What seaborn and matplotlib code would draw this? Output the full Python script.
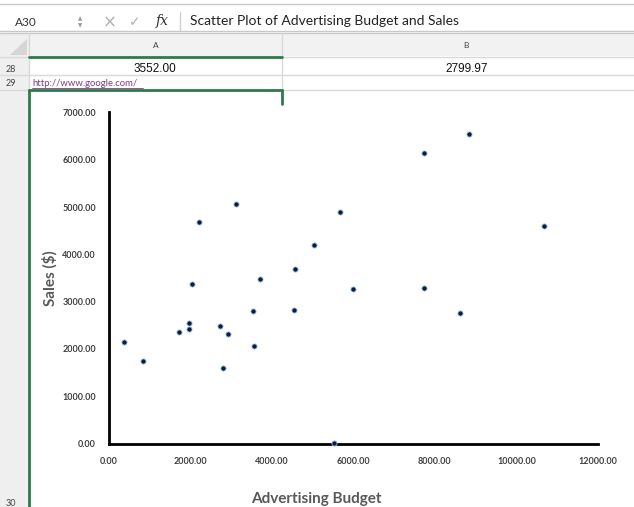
import matplotlib
matplotlib.use("Agg")
import matplotlib.pyplot as plt
import seaborn as sns
import pandas as pd
from matplotlib.lines import Line2D
from matplotlib.patches import Rectangle, Polygon

# ---- data ----
budget = [372, 846, 1728, 1965, 1965, 2054, 2740, 2937, 2814, 3552, 3558, 3705,
          4547, 2226, 3125, 4571, 5044, 8836, 7733, 5666, 10681, 6000, 7733, 8623, 5520]
sales = [2140, 1751, 2357, 2554, 2421, 3379, 2491, 2315, 1596, 2799.97, 2055, 3471,
         2816, 4689, 5063, 3689, 4197, 6543, 6148, 4888, 4605, 3273, 3294, 2752, 5]
x_ticks = [0, 2000, 4000, 6000, 8000, 10000, 12000]
y_ticks = [0, 1000, 2000, 3000, 4000, 5000, 6000, 7000]
formula_text = "Scatter Plot of Advertising Budget and Sales"
row28_values = ["3552.00", "2799.97"]
x_label = "Advertising Budget"
y_label = "Sales ($)"

sns.set_style("white")
plt.rcParams['font.family'] = ['Lato', 'DejaVu Sans']

W, H = 634, 507
fig = plt.figure(figsize=(W / 100, H / 100), dpi=100)
fig.patch.set_facecolor("white")

def fx(x):
    return x / W

def fy(y):
    return 1 - y / H

def hline(x0, x1, y, color, lw=1.0):
    fig.add_artist(Line2D([fx(x0), fx(x1)], [fy(y), fy(y)], color=color, lw=lw,
                          transform=fig.transFigure))

def vline(x, y0, y1, color, lw=1.0):
    fig.add_artist(Line2D([fx(x), fx(x)], [fy(y0), fy(y1)], color=color, lw=lw,
                          transform=fig.transFigure))

def rect(x0, y0, x1, y1, color):
    fig.add_artist(Rectangle((fx(x0), fy(y1)), fx(x1) - fx(x0), fy(y0) - fy(y1),
                             facecolor=color, edgecolor="none", transform=fig.transFigure,
                             zorder=0))

def text(x, y, s, **kw):
    fig.text(fx(x), fy(y), s, **kw)

# ---- Excel UI ----
gridc = "#d9d9d9"
green = "#2f7a4b"
# formula bar
hline(0, W, 4, "#c8c8c8", 1.0)
hline(0, W, 31, "#c8c8c8", 1.0)
hline(0, W, 33, "#c8c8c8", 1.0)
text(15, 22.5, "A30", fontsize=8.5, color="#333333", va="center", ha="left")
text(80, 19, "▲", fontsize=4, color="#999999", va="center", ha="center", family="DejaVu Sans")
text(80, 26, "▼", fontsize=4, color="#999999", va="center", ha="center", family="DejaVu Sans")
text(110, 22.5, "×", fontsize=12, color="#b0b0b0", va="center", ha="center", family="DejaVu Sans")
text(135, 22.5, "✓", fontsize=10, color="#b0b0b0", va="center", ha="center", family="DejaVu Sans")
text(162, 21.5, "fx", fontsize=10, color="#333333", va="center", ha="center",
     style="italic", family="DejaVu Serif")
vline(180, 12, 30, "#d0d0d0", 1.0)
text(190, 21, formula_text, fontsize=10, color="#222222", va="center", ha="left")

# header row
rect(0, 33, W, 56, "#f2f2f2")
rect(0, 33, 29, H, "#efefef")
fig.add_artist(Polygon([[fx(10), fy(55)], [fx(27), fy(55)], [fx(27), fy(39)]],
                       closed=True, facecolor="#d6d6d6", edgecolor="none",
                       transform=fig.transFigure))
vline(29, 33, 90, gridc)
vline(282, 33, 90, gridc)
text(156, 45, "A", fontsize=6, color="#444444", va="center", ha="center")
text(466, 45, "B", fontsize=6, color="#444444", va="center", ha="center")
hline(0, W, 56.5, gridc)
hline(29, 282, 56.5, green, 2.0)
# rows
hline(0, W, 75, gridc)
hline(0, W, 90, gridc)
text(6, 69, "28", fontsize=6.5, color="#444444", va="center", ha="left")
text(6, 83, "29", fontsize=6.5, color="#444444", va="center", ha="left")
text(6, 503, "30", fontsize=6.5, color="#444444", va="center", ha="left")
text(155, 68.5, row28_values[0], fontsize=8.5, color="#111111", va="center", ha="center",
     family=["Liberation Sans", "DejaVu Sans"])
text(467, 68.5, row28_values[1], fontsize=8.5, color="#111111", va="center", ha="center",
     family=["Liberation Sans", "DejaVu Sans"])
link = fig.text(fx(32), fy(83), "http://www.google.com/", fontsize=6.8, color="#7d3c86",
                va="center", ha="left")
hline(32, 143, 88, "#7d3c86", 0.6)

# selection border of chart cell
vline(29, 90, H, green, 2.0)
hline(29, 282, 90, green, 2.0)
vline(282, 90, 104, green, 2.0)

# ---- chart ----
x0, x1 = 108.5, 598
y_top, y_bot = 112.5, 443.5
ax = fig.add_axes([fx(x0), fy(y_bot), fx(x1) - fx(x0), fy(y_top) - fy(y_bot)])
ax.set_facecolor("none")

df = pd.DataFrame({"Advertising Budget": budget, "Sales": sales})
sns.scatterplot(data=df, x="Advertising Budget", y="Sales", ax=ax, s=14,
                color="#0b1d3a", edgecolor="#9dc3e6", linewidth=0.6, zorder=5,
                clip_on=False)

ax.set_xlim(0, 12000)
ax.set_ylim(0, 7000)
ax.set_xticks(x_ticks)
ax.set_yticks(y_ticks)
ax.set_xticklabels([f"{v:.2f}" for v in x_ticks])
ax.set_yticklabels([f"{v:.2f}" for v in y_ticks])
ax.tick_params(axis="both", length=0, labelsize=6.5, labelcolor="#404040")
ax.tick_params(axis="x", pad=10)
ax.tick_params(axis="y", pad=9)
for lab in ax.get_xticklabels() + ax.get_yticklabels():
    lab.set_fontweight("bold")
for side in ["top", "right"]:
    ax.spines[side].set_visible(False)
for side in ["left", "bottom"]:
    ax.spines[side].set_color("black")
    ax.spines[side].set_linewidth(2)
ax.set_xlabel("")
ax.set_ylabel("")

text(316, 499, x_label, fontsize=11, fontweight="bold", color="#595959",
     ha="center", va="center")
text(50, 278, y_label, fontsize=11, fontweight="bold", color="#595959",
     ha="center", va="center", rotation=90)

fig.savefig("out.png", dpi=100, facecolor="white")
